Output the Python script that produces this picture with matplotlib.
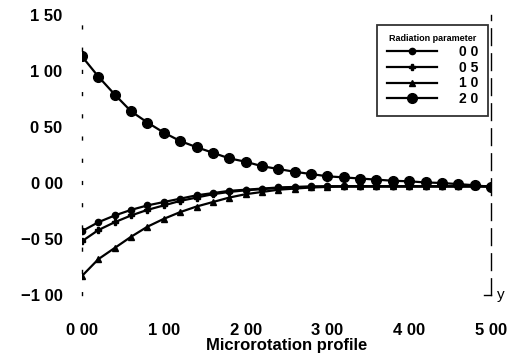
import matplotlib
matplotlib.use('Agg')
import matplotlib.pyplot as plt
import numpy as np

plt.rcParams['font.family'] = ['Liberation Sans', 'DejaVu Sans']

# distance from the wall, one marker every 0.2
y_pos = np.round(np.arange(0, 5.01, 0.2), 2)

# microrotation for each radiation parameter
g_r00 = [-0.43, -0.35, -0.29, -0.24, -0.20, -0.17, -0.14, -0.11, -0.09, -0.07,
         -0.06, -0.05, -0.04, -0.035, -0.03, -0.03, -0.03, -0.03, -0.03, -0.03,
         -0.03, -0.03, -0.03, -0.03, -0.03, -0.03]
g_r05 = [-0.52, -0.42, -0.35, -0.29, -0.24, -0.20, -0.16, -0.13, -0.10, -0.08,
         -0.065, -0.055, -0.045, -0.04, -0.035, -0.03, -0.03, -0.03, -0.03, -0.03,
         -0.03, -0.03, -0.03, -0.03, -0.03, -0.03]
g_r10 = [-0.83, -0.68, -0.58, -0.48, -0.39, -0.32, -0.26, -0.21, -0.17, -0.13,
         -0.10, -0.08, -0.06, -0.05, -0.04, -0.035, -0.03, -0.03, -0.03, -0.03,
         -0.03, -0.03, -0.03, -0.03, -0.03, -0.03]
g_r20 = [1.13, 0.95, 0.79, 0.64, 0.54, 0.45, 0.375, 0.32, 0.27, 0.22,
         0.19, 0.15, 0.125, 0.10, 0.08, 0.06, 0.05, 0.04, 0.03, 0.02,
         0.015, 0.005, 0.0, -0.01, -0.02, -0.035]

legend_labels = ['0 0', '0 5', '1 0', '2 0']
xtick_vals = [0, 1, 2, 3, 4, 5]
xtick_text = ['0 00', '1 00', '2 00', '3 00', '4 00', '5 00']
ytick_vals = [-1.0, -0.5, 0.0, 0.5, 1.0, 1.5]
ytick_text = ['\u22121 00', '\u22120 50', '0 00', '0 50', '1 00', '1 50']

fig = plt.figure(figsize=(5.29, 3.64), dpi=100)
ax = fig.add_axes([82 / 529, 1 - 295 / 364, 409 / 529, 280 / 364])

ax.plot(y_pos, g_r00, '-', color='black', lw=1.6, marker='o', ms=4.5, label=legend_labels[0])
ax.plot(y_pos, g_r05, '-', color='black', lw=1.6, marker='P', ms=5, label=legend_labels[1])
ax.plot(y_pos, g_r10, '-', color='black', lw=1.6, marker='^', ms=5, label=legend_labels[2])
ax.plot(y_pos, g_r20, '-', color='black', lw=1.6, marker='o', ms=7, label=legend_labels[3])

ax.set_xlim(0, 5)
ax.set_ylim(-1.0, 1.5)

ax.set_xticks(xtick_vals)
ax.set_xticklabels(xtick_text, fontsize=12, fontweight='bold')
ax.set_yticks(ytick_vals)
ax.set_yticklabels(ytick_text, fontsize=12, fontweight='bold')
ax.tick_params(axis='x', length=0, pad=20)
ax.tick_params(axis='y', length=0, pad=14)

# faint broken axes from the scan
for side in ['top', 'bottom']:
    ax.spines[side].set_visible(False)
ax.spines['left'].set_linestyle((0, (2, 14)))
ax.spines['left'].set_linewidth(1.0)
ax.spines['right'].set_linestyle((0, (12, 6)))
ax.spines['right'].set_linewidth(1.0)

ax.set_xlabel('Microrotation profile', fontsize=12, fontweight='bold', labelpad=0)

ax.plot([4.92, 5.0], [-1.0, -1.0], color='black', lw=1, clip_on=False)
ax.text(5.07, -1.0, 'y', fontsize=11, va='center', ha='left')

leg = ax.legend(title='Radiation parameter', loc='upper left',
                bbox_to_anchor=(0.705, 0.99), frameon=True, fancybox=False,
                handlelength=3.6, handletextpad=1.6, numpoints=1,
                borderpad=0.7, labelspacing=0.12,
                prop={'size': 10, 'weight': 'bold'}, title_fontsize=6.5)
leg.get_title().set_fontweight('bold')
leg.get_frame().set_edgecolor('black')
leg.get_frame().set_linewidth(1.3)

fig.savefig('out.png', dpi=100)
